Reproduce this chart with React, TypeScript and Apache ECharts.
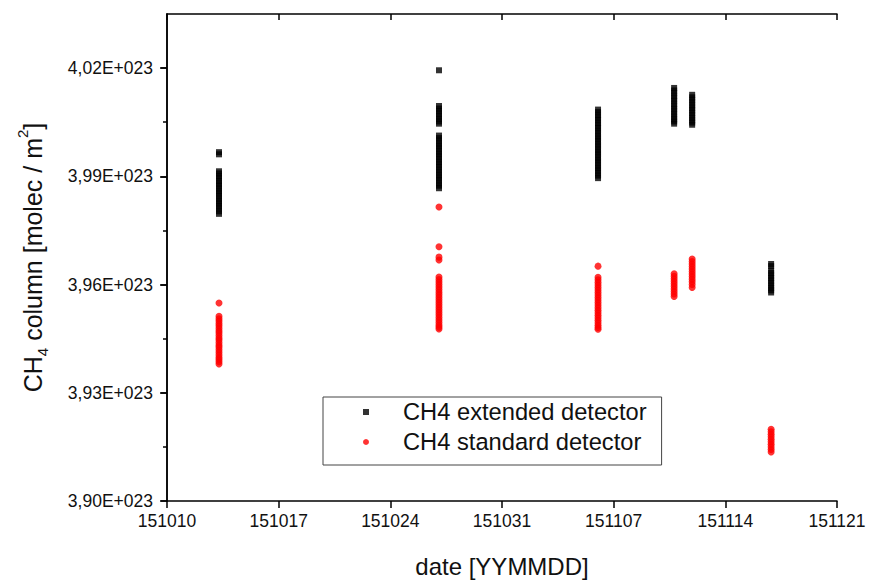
import React, { useEffect, useRef } from "react";
import * as echarts from "echarts";

// x axis: days since 2015-10-10, labelled YYMMDD every 7 days
const dayLabels = ["151010", "151017", "151024", "151031", "151107", "151114", "151121"];

// y axis tick values (x 1E+23 molec / m2)
const yMajorTicks = [3.9, 3.93, 3.96, 3.99, 4.02];
const yMinorTicks = [3.915, 3.945, 3.975, 4.005];

// measurement sessions (day offset from 151010)
const sessionDays = [3.26, 17.05, 27.02, 31.79, 32.92, 37.87];

// CH4 column (x 1E+23 molec / m2), extended detector
const extendedS1 = [3.9967, 3.9961, 3.9914, 3.9908, 3.9901, 3.9895, 3.9887, 3.988, 3.9874, 3.9866, 3.9859, 3.9853, 3.9846, 3.9838, 3.9831, 3.9825, 3.9818, 3.9811, 3.9803, 3.9796];
const extendedS2 = [4.0194, 4.0095, 4.0088, 4.0081, 4.0074, 4.0066, 4.0059, 4.0052, 4.0046, 4.0013, 4.0006, 3.9999, 3.9991, 3.9984, 3.9977, 3.9969, 3.9962, 3.9955, 3.9947, 3.994, 3.9933, 3.9926, 3.9918, 3.9911, 3.9903, 3.9896, 3.9889, 3.9881, 3.9874, 3.9867];
const extendedS3 = [4.0085, 4.0078, 4.007, 4.0063, 4.0056, 4.0048, 4.0041, 4.0034, 4.0026, 4.0019, 4.0011, 4.0004, 3.9997, 3.9989, 3.9982, 3.9974, 3.9967, 3.996, 3.9952, 3.9945, 3.9938, 3.993, 3.9923, 3.9916, 3.9909, 3.9902, 3.9895];
const extendedS4 = [4.0145, 4.0138, 4.0131, 4.0123, 4.0116, 4.0109, 4.0101, 4.0094, 4.0087, 4.008, 4.0072, 4.0065, 4.0058, 4.0052, 4.0046];
const extendedS5 = [4.0126, 4.0119, 4.0112, 4.0105, 4.0097, 4.009, 4.0083, 4.0076, 4.0069, 4.0062, 4.0055, 4.0049, 4.0043];
const extendedS6 = [3.9657, 3.9651, 3.9639, 3.9632, 3.9625, 3.9618, 3.9611, 3.9604, 3.9597, 3.959, 3.9584, 3.9578];

// CH4 column (x 1E+23 molec / m2), standard detector
const standardS1 = [3.9549, 3.9512, 3.9505, 3.9499, 3.9492, 3.9486, 3.9479, 3.9472, 3.9466, 3.9459, 3.9452, 3.9446, 3.9439, 3.9432, 3.9426, 3.9419, 3.9412, 3.9405, 3.9398, 3.9392, 3.9386, 3.938];
const standardS2 = [3.9815, 3.9705, 3.9676, 3.9668, 3.9621, 3.9614, 3.9607, 3.96, 3.9593, 3.9586, 3.9579, 3.9572, 3.9565, 3.9558, 3.9551, 3.9544, 3.9537, 3.953, 3.9523, 3.9516, 3.9509, 3.9502, 3.9495, 3.9488, 3.9482, 3.9477];
const standardS3 = [3.9651, 3.962, 3.9613, 3.9606, 3.9599, 3.9592, 3.9585, 3.9578, 3.9571, 3.9564, 3.9557, 3.955, 3.9543, 3.9536, 3.9529, 3.9522, 3.9515, 3.9508, 3.9501, 3.9494, 3.9487, 3.9481, 3.9476];
const standardS4 = [3.963, 3.9623, 3.9616, 3.9609, 3.9602, 3.9595, 3.9588, 3.9581, 3.9574, 3.9567];
const standardS5 = [3.9671, 3.9664, 3.9657, 3.965, 3.9643, 3.9636, 3.9629, 3.9622, 3.9615, 3.9608, 3.96, 3.9592];
const standardS6 = [3.9199, 3.9192, 3.9185, 3.9178, 3.9171, 3.9164, 3.9157, 3.915, 3.9143, 3.9136];

const extendedValues = [extendedS1, extendedS2, extendedS3, extendedS4, extendedS5, extendedS6];
const standardValues = [standardS1, standardS2, standardS3, standardS4, standardS5, standardS6];

const seriesNames = ["CH4 extended detector", "CH4 standard detector"];

function toPoints(days: number[], groups: number[][]): number[][] {
  const out: number[][] = [];
  groups.forEach((g, i) => g.forEach((v) => out.push([days[i], v])));
  return out;
}

const FONT = "'Liberation Sans', Arial, sans-serif";
const AXIS_COLOR = "#000";
const TEXT_COLOR = "#111";

export default function App() {
  const ref = useRef<HTMLDivElement>(null);
  useEffect(() => {
    const chart = echarts.init(ref.current!, null, { renderer: "svg" });
    const lineStyle = { color: AXIS_COLOR, width: 1.5 };
    const yFmt = (v: number) => v.toFixed(2).replace(".", ",") + "E+023";
    const yBase = { type: "value", min: 3.9, max: 4.035, interval: 0.015, splitLine: { show: false } };
    chart.setOption({
      animation: false,
      backgroundColor: "#fff",
      grid: { left: 167, right: 32, top: 14, bottom: 78 },
      xAxis: [
        {
          type: "value",
          min: 0,
          max: 42,
          interval: 7,
          position: "bottom",
          axisLine: { show: true, lineStyle },
          axisTick: { show: true, inside: false, length: 7, lineStyle },
          axisLabel: {
            formatter: (v: number) => dayLabels[Math.round(v / 7)] ?? "",
            fontSize: 17.5,
            color: TEXT_COLOR,
            fontFamily: FONT,
            margin: 11,
          },
          splitLine: { show: false },
          name: "date [YYMMDD]",
          nameLocation: "middle",
          nameGap: 53,
          nameTextStyle: { fontSize: 24, color: TEXT_COLOR, fontFamily: FONT },
        },
        {
          type: "value",
          min: 0,
          max: 42,
          interval: 7,
          position: "top",
          axisLine: { show: true, lineStyle },
          axisTick: { show: true, inside: true, length: 6, lineStyle },
          axisLabel: { show: false },
          splitLine: { show: false },
        },
      ],
      yAxis: [
        {
          ...yBase,
          position: "left",
          axisLine: { show: true, lineStyle },
          axisTick: { show: true, inside: false, length: 7, lineStyle, customValues: yMajorTicks },
          axisLabel: {
            customValues: yMajorTicks,
            formatter: yFmt,
            fontSize: 17.5,
            color: TEXT_COLOR,
            fontFamily: FONT,
            margin: 14,
          },
          name: "{m|CH}{sub|4}{m| column [molec / m}{sup|2}{m|]}",
          nameLocation: "middle",
          nameGap: 117,
          nameTextStyle: {
            fontSize: 25,
            color: TEXT_COLOR,
            fontFamily: FONT,
            rich: {
              m: { fontSize: 25, lineHeight: 35, color: TEXT_COLOR, fontFamily: FONT },
              sub: { fontSize: 15, verticalAlign: "bottom", color: TEXT_COLOR, fontFamily: FONT },
              sup: { fontSize: 15, verticalAlign: "top", color: TEXT_COLOR, fontFamily: FONT },
            },
          },
        },
        {
          ...yBase,
          position: "right",
          axisLine: { show: true, lineStyle },
          axisTick: { show: true, inside: true, length: 6, lineStyle, customValues: yMajorTicks },
          axisLabel: { show: false },
        },
        {
          ...yBase,
          position: "left",
          axisLine: { show: false },
          axisTick: { show: true, inside: false, length: 4, lineStyle, customValues: yMinorTicks },
          axisLabel: { show: false },
        },
      ],
      legend: {
        orient: "vertical",
        left: 323,
        top: 397,
        padding: [3, 15, 11, 40],
        borderColor: "#444",
        borderWidth: 1,
        itemWidth: 6,
        itemHeight: 6,
        itemGap: 6,
        textStyle: { fontSize: 23.7, lineHeight: 23, color: TEXT_COLOR, fontFamily: FONT, padding: [0, 0, 0, 29] },
        data: [
          { name: seriesNames[0], icon: "rect" },
          { name: seriesNames[1], icon: "circle" },
        ],
      },
      series: [
        {
          name: seriesNames[0],
          type: "scatter",
          symbol: "rect",
          symbolSize: 6,
          itemStyle: { color: "#000" },
          xAxisIndex: 0,
          yAxisIndex: 0,
          data: toPoints(sessionDays, extendedValues),
        },
        {
          name: seriesNames[1],
          type: "scatter",
          symbol: "circle",
          symbolSize: 7,
          itemStyle: { color: "#ff0000" },
          xAxisIndex: 0,
          yAxisIndex: 0,
          data: toPoints(sessionDays, standardValues),
        },
      ],
    });
    return () => chart.dispose();
  }, []);
  return (
    <div
      ref={ref}
      style={{ position: "fixed", left: 0, top: 0, width: 869, height: 583, background: "#fff" }}
    />
  );
}
